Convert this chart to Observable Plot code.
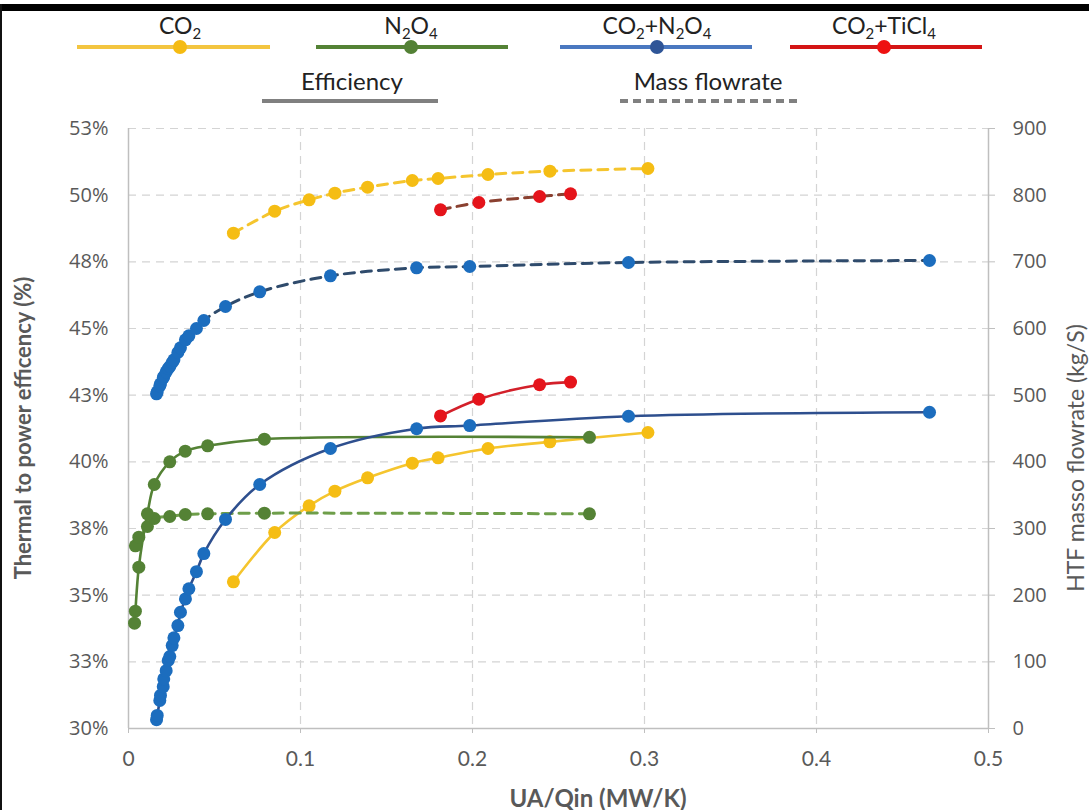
<!DOCTYPE html>
<html>
<head>
<meta charset="utf-8">
<script src="https://cdn.jsdelivr.net/npm/d3@7"></script>
<script src="https://cdn.jsdelivr.net/npm/@observablehq/plot@0.6"></script>
<style>
  body { margin: 0; background: #fff; }
  #wrap { position: relative; width: 1089px; height: 810px; overflow: hidden; background: #fff; font-family: Lato, "Open Sans", sans-serif; }
  #topbar { position: absolute; left: 0; top: 4px; width: 1089px; height: 7px; background: #000; z-index: 5; }
  #leftbar { position: absolute; left: 0; top: 4px; width: 2px; height: 806px; background: #111; z-index: 5; }
  #legend { position: absolute; left: 0; top: 0; width: 1089px; height: 110px; }
  #chart { position: absolute; left: 0; top: 110px; }
  .lg { position: absolute; transform: translate(-50%, -50%); white-space: nowrap; color: #222; font-family: Lato, sans-serif; font-size: 23px; }
  .lg sub { font-size: 65%; vertical-align: -0.35em; line-height: 0; }
  .ttl { position: absolute; transform: translate(-50%, -50%); white-space: nowrap; color: #595959; font-family: Lato, sans-serif; }
</style>
</head>
<body>
<div id="wrap">
  <div id="topbar"></div>
  <div id="leftbar"></div>
  <div id="legend"></div>
  <div id="chart"></div>
</div>
<script>
// ---------- data ----------
const xTicks = [0, 0.1, 0.2, 0.3, 0.4, 0.5];
const effTicks = [30, 32.5, 35, 37.5, 40, 42.5, 45, 47.5, 50, 52.5];   // left axis, %
const flowTicks = [0, 100, 200, 300, 400, 500, 600, 700, 800, 900];   // right axis, kg/s

// CO2
const co2X    = [0.061, 0.085, 0.105, 0.120, 0.139, 0.165, 0.180, 0.209, 0.245, 0.302];
const co2Eff  = [35.5, 37.35, 38.35, 38.9, 39.4, 39.95, 40.15, 40.5, 40.75, 41.1];
const co2Flow = [743, 776, 793, 803, 812, 822, 825, 831, 836, 840];

// N2O4
const n2o4EffX  = [0.0035, 0.004, 0.006, 0.011, 0.015, 0.024, 0.033, 0.046, 0.079, 0.268];
const n2o4Eff   = [33.95, 34.4, 36.05, 38.05, 39.15, 40.0, 40.4, 40.6, 40.85, 40.92];
const n2o4FlowX = [0.004, 0.006, 0.011, 0.015, 0.024, 0.033, 0.046, 0.079, 0.268];
const n2o4Flow  = [274, 287, 303, 315, 318, 321, 322, 323, 322];

// CO2 + N2O4
const mixX    = [0.0163, 0.0167, 0.0182, 0.0186, 0.0202, 0.0205, 0.0219, 0.0231, 0.0240, 0.0254, 0.0264, 0.0287, 0.0302, 0.0331, 0.0351, 0.0395, 0.0438, 0.0564, 0.0763, 0.1174, 0.1675, 0.1984, 0.2907, 0.4657];
const mixEff  = [30.33, 30.49, 31.05, 31.24, 31.57, 31.86, 32.17, 32.55, 32.70, 33.11, 33.40, 33.86, 34.36, 34.86, 35.24, 35.88, 36.56, 37.84, 39.15, 40.50, 41.24, 41.36, 41.71, 41.86];
const mixFlow = [502, 505, 514, 517, 526, 528, 535, 540, 543, 549, 553, 564, 571, 583, 589, 600, 612, 633, 655, 679, 691, 693, 699, 702];

// CO2 + TiCl4
const ticlX    = [0.1814, 0.2037, 0.2390, 0.2570];
const ticlEff  = [41.72, 42.35, 42.89, 42.99];
const ticlFlow = [778, 789, 798, 802];

// ---------- series table ----------
const series = [
  {name: "CO2",       effX: co2X,     eff: co2Eff,  flowX: co2X,      flow: co2Flow,  dot: "#F5BD14", line: "#F5C52E", dash: "#F5C52E"},
  {name: "N2O4",      effX: n2o4EffX, eff: n2o4Eff, flowX: n2o4FlowX, flow: n2o4Flow, dot: "#548235", line: "#548235", dash: "#6E9E4A"},
  {name: "CO2+N2O4",  effX: mixX,     eff: mixEff,  flowX: mixX,      flow: mixFlow,  dot: "#1C6DBE", line: "#2E4F8E", dash: "#2F4B6C"},
  {name: "CO2+TiCl4", effX: ticlX,    eff: ticlEff, flowX: ticlX,     flow: ticlFlow, dot: "#E5141B", line: "#D3202A", dash: "#8A4030"}
];

// right axis (kg/s) shares the left axis frame: 0..900 kg/s  <->  30..52.5 %
const flowToY = m => effTicks[0] + m * (effTicks[effTicks.length - 1] - effTicks[0]) / flowTicks[flowTicks.length - 1];
const yToFlow = y => Math.round((y - effTicks[0]) * flowTicks[flowTicks.length - 1] / (effTicks[effTicks.length - 1] - effTicks[0]));

const marks = [];
// grid
marks.push(Plot.gridY(effTicks.slice(1), {stroke: "#d4d4d4", strokeOpacity: 1, strokeWidth: 1.2, strokeDasharray: "8,6"}));
marks.push(Plot.gridX(xTicks.slice(1, -1), {stroke: "#d4d4d4", strokeOpacity: 1, strokeWidth: 1.2, strokeDasharray: "8,6"}));
// axis lines
marks.push(Plot.ruleX([xTicks[0]], {stroke: "#bfbfbf", strokeWidth: 1.5}));
marks.push(Plot.ruleX([xTicks[xTicks.length - 1]], {stroke: "#bfbfbf", strokeWidth: 1.5}));
marks.push(Plot.ruleY([effTicks[0]], {stroke: "#bfbfbf", strokeWidth: 1.5}));

for (const s of series) {
  const effRows = s.effX.map((x, i) => ({x, y: s.eff[i]}));
  const flowRows = s.flowX.map((x, i) => ({x, y: flowToY(s.flow[i])}));
  marks.push(Plot.line(flowRows, {x: "x", y: "y", stroke: s.dash, strokeWidth: 3, strokeDasharray: "10,7", curve: "catmull-rom"}));
  marks.push(Plot.line(effRows, {x: "x", y: "y", stroke: s.line, strokeWidth: 2.6, curve: "catmull-rom"}));
  marks.push(Plot.dot(flowRows, {x: "x", y: "y", r: 6.5, fill: s.dot}));
  marks.push(Plot.dot(effRows, {x: "x", y: "y", r: 6.5, fill: s.dot}));
}

// axes
marks.push(Plot.axisY({anchor: "left", ticks: effTicks, tickSize: 0, tickPadding: 20,
  tickFormat: d => Math.round(d) + "%", fontSize: 20, fontFamily: "Open Sans", fill: "#595959", label: null}));
marks.push(Plot.axisY({anchor: "right", ticks: effTicks, tickSize: 6, tickPadding: 18,
  tickFormat: d => String(yToFlow(d)), fontSize: 20, fontFamily: "Open Sans", fill: "#595959", stroke: "#bfbfbf", label: null}));
marks.push(Plot.axisX({ticks: xTicks, tickSize: 5, tickPadding: 18,
  tickFormat: d => String(d), fontSize: 21, fontFamily: "Lato", fill: "#595959", stroke: "#bfbfbf", label: null}));

const chart = Plot.plot({
  width: 1089,
  height: 700,
  marginTop: 18,
  marginBottom: 82,
  marginLeft: 128,
  marginRight: 101,
  x: {domain: [xTicks[0], xTicks[xTicks.length - 1]], label: null},
  y: {domain: [effTicks[0], effTicks[effTicks.length - 1]], label: null},
  style: {background: "white", color: "#595959", fontFamily: "Open Sans", overflow: "visible"},
  marks
});
document.getElementById("chart").appendChild(chart);

// ---------- axis titles ----------
const wrap = document.getElementById("wrap");
function title(html, x, y, size, weight, rot) {
  const d = document.createElement("div");
  d.className = "ttl";
  d.innerHTML = html;
  d.style.left = x + "px";
  d.style.top = y + "px";
  d.style.fontSize = size + "px";
  d.style.fontWeight = weight;
  if (rot) d.style.transform = "translate(-50%,-50%) rotate(-90deg)";
  wrap.appendChild(d);
}
title("Thermal to power efficency (%)", 22, 428, 22, 700, true);
title("HTF masso flowrate (kg/S)", 1075, 458, 23, 400, true);
title("UA/Qin (MW/K)", 598, 797, 24, 700, false);

// ---------- legend ----------
const legendItems = [
  {label: "CO<sub>2</sub>",                          cx: 180, x1: 77,  x2: 270, line: "#F3C540", dot: "#F5BB12"},
  {label: "N<sub>2</sub>O<sub>4</sub>",              cx: 411, x1: 316, x2: 508, line: "#548235", dot: "#538135"},
  {label: "CO<sub>2</sub>+N<sub>2</sub>O<sub>4</sub>", cx: 657, x1: 560, x2: 752, line: "#4A78C0", dot: "#2F5597"},
  {label: "CO<sub>2</sub>+TiCl<sub>4</sub>",         cx: 884, x1: 790, x2: 982, line: "#D41515", dot: "#EE1111"}
];
const styleItems = [
  {label: "Efficiency",    cx: 352, x1: 262, x2: 438, dash: null},
  {label: "Mass flowrate", cx: 708, x1: 620, x2: 797, dash: "8,5"}
];
const leg = d3.select("#legend");
const lsvg = leg.append("svg").attr("width", 1089).attr("height", 110).style("position", "absolute").style("left", 0).style("top", 0);
for (const it of legendItems) {
  lsvg.append("line").attr("x1", it.x1).attr("x2", it.x2).attr("y1", 47).attr("y2", 47)
    .attr("stroke", it.line).attr("stroke-width", 4);
  lsvg.append("circle").attr("cx", it.cx).attr("cy", 47).attr("r", 7).attr("fill", it.dot);
  leg.append("div").attr("class", "lg").style("left", it.cx + "px").style("top", "25px").html(it.label);
}
for (const it of styleItems) {
  lsvg.append("line").attr("x1", it.x1).attr("x2", it.x2).attr("y1", 101).attr("y2", 101)
    .attr("stroke", "#808080").attr("stroke-width", 4).attr("stroke-dasharray", it.dash);
  leg.append("div").attr("class", "lg").style("left", it.cx + "px").style("top", "80px").style("font-size", "24px").html(it.label);
}
</script>
</body>
</html>
